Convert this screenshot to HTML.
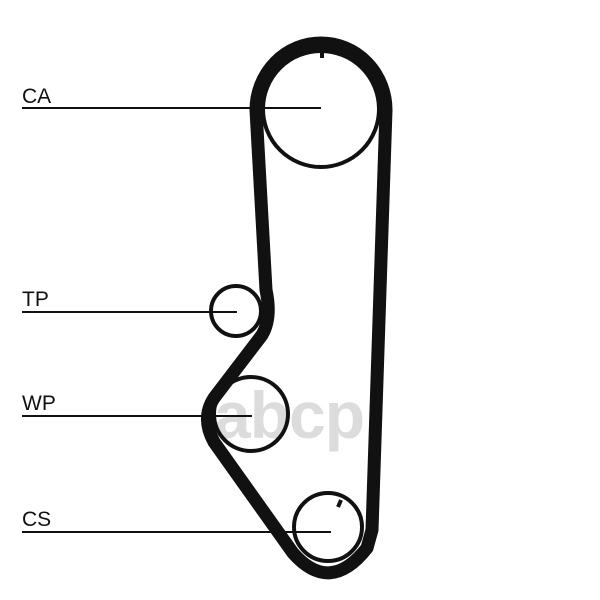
<!DOCTYPE html>
<html><head><meta charset="utf-8"><style>
html,body{margin:0;padding:0;background:#fff;}
svg{display:block;}
</style></head><body>
<svg width="600" height="600" viewBox="0 0 600 600" xmlns="http://www.w3.org/2000/svg">
<rect width="600" height="600" fill="#fff"/>
<text x="214" y="438" font-family="Liberation Sans, sans-serif" font-size="66" font-weight="bold" fill="#dcdcdc" letter-spacing="-1">abcp</text>
<g fill="none" stroke="#111">
<circle cx="321" cy="109" r="58" stroke-width="4"/>
<circle cx="236" cy="311" r="25" stroke-width="4"/>
<circle cx="251" cy="414" r="37" stroke-width="4"/>
<circle cx="328" cy="527" r="34" stroke-width="4"/>
<path d="M256,110 L266,290 Q272,318 262,335 L214,398 Q201,418 214,442 L293,553 Q330,595 367,548 L372,530 L386,110 A65,67 0 0 0 256,110 Z" stroke-width="13" stroke-linejoin="round"/>
<line x1="322" y1="50" x2="322" y2="58" stroke-width="4"/>
<line x1="341" y1="500" x2="338" y2="507" stroke-width="4"/>
<g stroke-width="2">
<line x1="22" y1="108" x2="321" y2="108"/>
<line x1="22" y1="312" x2="237" y2="312"/>
<line x1="22" y1="416" x2="252" y2="416"/>
<line x1="22" y1="532" x2="331" y2="532"/>
</g>
</g>
<g font-family="Liberation Sans, sans-serif" font-size="21" fill="#111">
<text x="22" y="103">CA</text>
<text x="22" y="306">TP</text>
<text x="22" y="410">WP</text>
<text x="22" y="526">CS</text>
</g>
</svg>
</body></html>
